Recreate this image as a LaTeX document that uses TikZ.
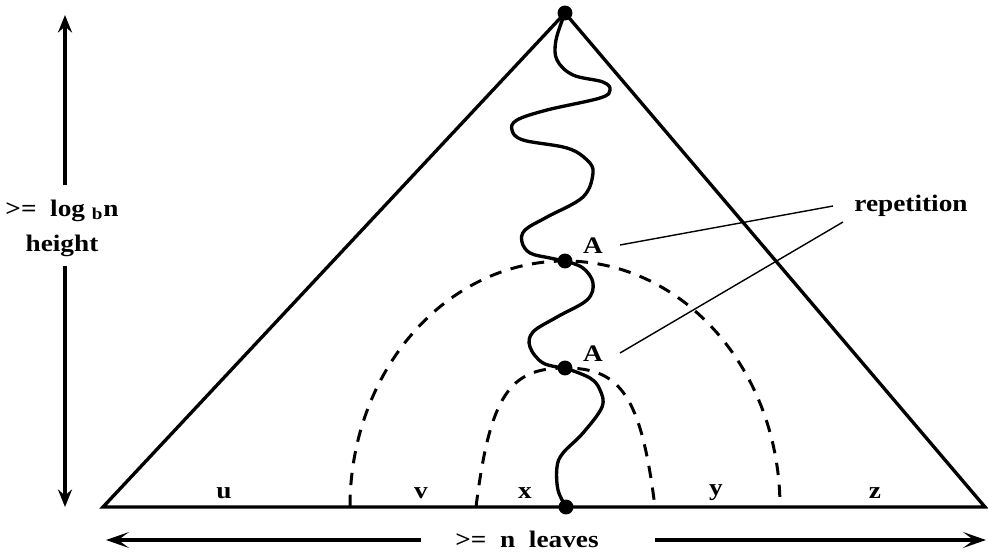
\documentclass[tikz,border=0pt]{standalone}
\usepackage{fontspec}
\setmainfont{Liberation Serif}[FakeStretch=1.15]
\usepackage{tikz}
\usetikzlibrary{arrows.meta}
\tikzset{
  side/.style={line width=1.9pt, line join=miter},
  wave/.style={line width=1.9pt},
  arch/.style={line width=1.7pt, dash pattern=on 7pt off 5.5pt},
  dot/.style={circle, fill=black, inner sep=0pt, minimum size=8.5pt},
  lbl/.style={font=\bfseries\fontsize{13.5}{20}\selectfont, inner sep=1pt},
  pin/.style={line width=0.8pt},
  vspan/.style={line width=1.9pt, -{Stealth[length=10pt, width=8pt, inset=3.5pt]}},
  hspan/.style={line width=1.9pt, -{Stealth[length=13pt, width=9pt, inset=6pt]}}
}
\begin{document}
\begin{tikzpicture}[x=0.02cm, y=-0.02cm]
    \useasboundingbox (0,0) rectangle (988,552);
    % triangle
    \node[dot] (top) at (565,13) {};
    \coordinate (bl) at (103,507);
    \coordinate (br) at (985,507);
    \draw[side] (bl) -- (top.center) -- (br) -- cycle;
    \node[dot] (a1) at (565,261) {};
    \node[dot] (a2) at (565,368) {};
    \node[dot] (leaf) at (566,507) {};
    % arches
    \coordinate (vl) at (350,507);
    \coordinate (vr) at (780,507);
    \coordinate (xl) at (476,507);
    \coordinate (xr) at (655,507);
    \draw[arch] (vl) .. controls (350,371) and (446,261) .. (a1.center)
                .. controls (684,261) and (780,371) .. (vr);
    \draw[arch] (xl) .. controls (490,395) and (510,368) .. (a2.center)
                .. controls (620,368) and (641,395) .. (xr);
    % path down the tree
    \draw[wave] plot[smooth, tension=0.6] coordinates {(top.center) (556,40) (557,60) (573,75)
      (603,82) (610,90) (600,98) (547,110) (517,120) (512,130) (523,140) (567,148) (587,160)
      (593,173) (583,197) (547,217) (525,230) (522,242) (530,253) (550,258) (a1.center)};
    \draw[wave] plot[smooth, tension=0.6] coordinates {(a1.center) (583,268) (593,283) (587,300)
      (557,317) (533,332) (530,347) (543,363) (a2.center)};
    \draw[wave] plot[smooth, tension=0.6] coordinates {(a2.center) (590,378) (600,390) (602,407)
      (583,433) (563,453) (557,467) (558,490) (leaf.center)};
    % labels
    \node[lbl] (la1) at (593,246) {A};
    \node[lbl] (la2) at (593,354) {A};
    \node[lbl] (rep) at (911,206) {repetition};
    \coordinate (p1) at (620,245);
    \coordinate (p2) at (620,353);
    \coordinate (r1) at (833,206);
    \coordinate (r2) at (843,222);
    \draw[pin] (p1) -- (r1);
    \draw[pin] (p2) -- (r2);
    \node[lbl] (u) at (224,493) {u};
    \node[lbl] (v) at (421,493) {v};
    \node[lbl] (x) at (525,493) {x};
    \node[lbl] (y) at (716,493) {y};
    \node[lbl] (z) at (875,493) {z};
    % height
    \node[lbl, align=center] (hgt) at (62,228) {>= \ log \textsubscript{b}n\\height};
    \coordinate (ht) at (65,15);
    \coordinate (hb) at (65,507);
    \coordinate (hu) at (65,185);
    \coordinate (hd) at (65,266);
    \draw[vspan] (hu) -- (ht);
    \draw[vspan] (hd) -- (hb);
    % leaves
    \node[lbl] (nl) at (527,539) {>= \ n \ leaves};
    \coordinate (ll) at (106,540);
    \coordinate (lr) at (986,540);
    \coordinate (nw) at (421,540);
    \coordinate (ne) at (655,540);
    \draw[hspan] (nw) -- (ll);
    \draw[hspan] (ne) -- (lr);
\end{tikzpicture}
\end{document}
